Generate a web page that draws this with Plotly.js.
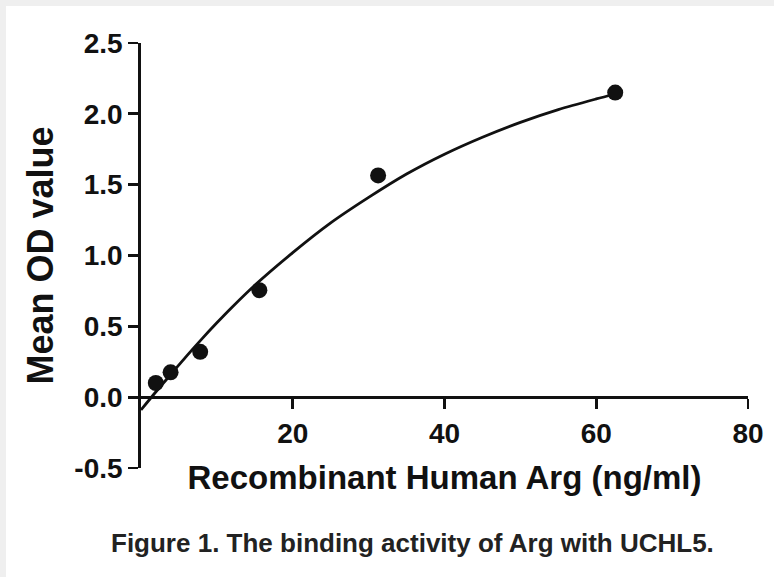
<!DOCTYPE html>
<html>
<head>
<meta charset="utf-8">
<script src="https://cdn.plot.ly/plotly-3.0.1.min.js"></script>
<style>
html, body { margin: 0; padding: 0; background: #efefef; width: 774px; height: 577px; overflow: hidden; }
#chart { position: absolute; left: 6px; top: 6px; width: 768px; height: 571px; background: #ffffff; }
</style>
</head>
<body>
<div id="chart"></div>
<script>
// Measured points
const concentration = [1.95, 3.9, 7.8, 15.6, 31.25, 62.5];
const meanOD = [0.10, 0.175, 0.32, 0.755, 1.565, 2.15];

// Fitted curve
const curveX = [0, 2, 4, 6, 8, 10, 12, 15, 20, 25, 30, 35, 40, 45, 50, 55, 60, 62.5];
const curveY = [-0.09, 0.04, 0.165, 0.29, 0.41, 0.525, 0.635, 0.79, 1.02, 1.23, 1.41, 1.575, 1.715, 1.835, 1.94, 2.03, 2.105, 2.14];

const yTicks = [-0.5, 0.0, 0.5, 1.0, 1.5, 2.0, 2.5];
const xTicks = [20, 40, 60, 80];

const fontFam = 'Arial, "Liberation Sans", Helvetica, sans-serif';

const traces = [
  {
    x: curveX, y: curveY, type: 'scatter', mode: 'lines',
    line: { color: '#111111', width: 2.8, shape: 'spline', smoothing: 0.8 },
    hoverinfo: 'skip', showlegend: false
  },
  {
    x: concentration, y: meanOD, type: 'scatter', mode: 'markers',
    marker: { color: '#111111', size: 16, symbol: 'circle' },
    showlegend: false
  }
];

const layout = {
  width: 768, height: 571,
  margin: { l: 135, r: 26, t: 37, b: 109 },
  paper_bgcolor: '#ffffff', plot_bgcolor: '#ffffff',
  showlegend: false,
  font: { family: fontFam, color: '#111111' },
  xaxis: {
    range: [0, 80],
    anchor: 'free', position: 1 / 6,
    showgrid: false, zeroline: false,
    showline: true, linecolor: '#111111', linewidth: 2.8,
    ticks: 'outside', ticklen: 10, tickwidth: 2.8, tickcolor: '#111111',
    tickvals: xTicks, ticktext: xTicks.map(String),
    tickfont: { size: 28, weight: 'bold', family: fontFam, color: '#111111' },
    title: { text: 'Recombinant Human Arg (ng/ml)', font: { size: 33, weight: 'bold', family: fontFam, color: '#111111' }, standoff: 18 }
  },
  yaxis: {
    range: [-0.5, 2.5],
    showgrid: false, zeroline: false,
    showline: true, linecolor: '#111111', linewidth: 2.8,
    ticks: 'outside', ticklen: 10, tickwidth: 2.8, tickcolor: '#111111',
    tickvals: yTicks, ticktext: yTicks.map(v => v.toFixed(1)),
    tickfont: { size: 28, weight: 'bold', family: fontFam, color: '#111111' },
    title: { text: 'Mean OD value', font: { size: 36, weight: 'bold', family: fontFam, color: '#111111' }, standoff: 10 }
  },
  annotations: [
    {
      xref: 'paper', yref: 'paper', x: 0.447, y: -0.176,
      xanchor: 'center', yanchor: 'middle', showarrow: false,
      text: 'Figure 1. The binding activity of Arg with UCHL5.',
      font: { size: 26, weight: 'bold', family: fontFam, color: '#222222' }
    }
  ]
};

Plotly.newPlot('chart', traces, layout, { displayModeBar: false, staticPlot: true });
</script>
</body>
</html>
